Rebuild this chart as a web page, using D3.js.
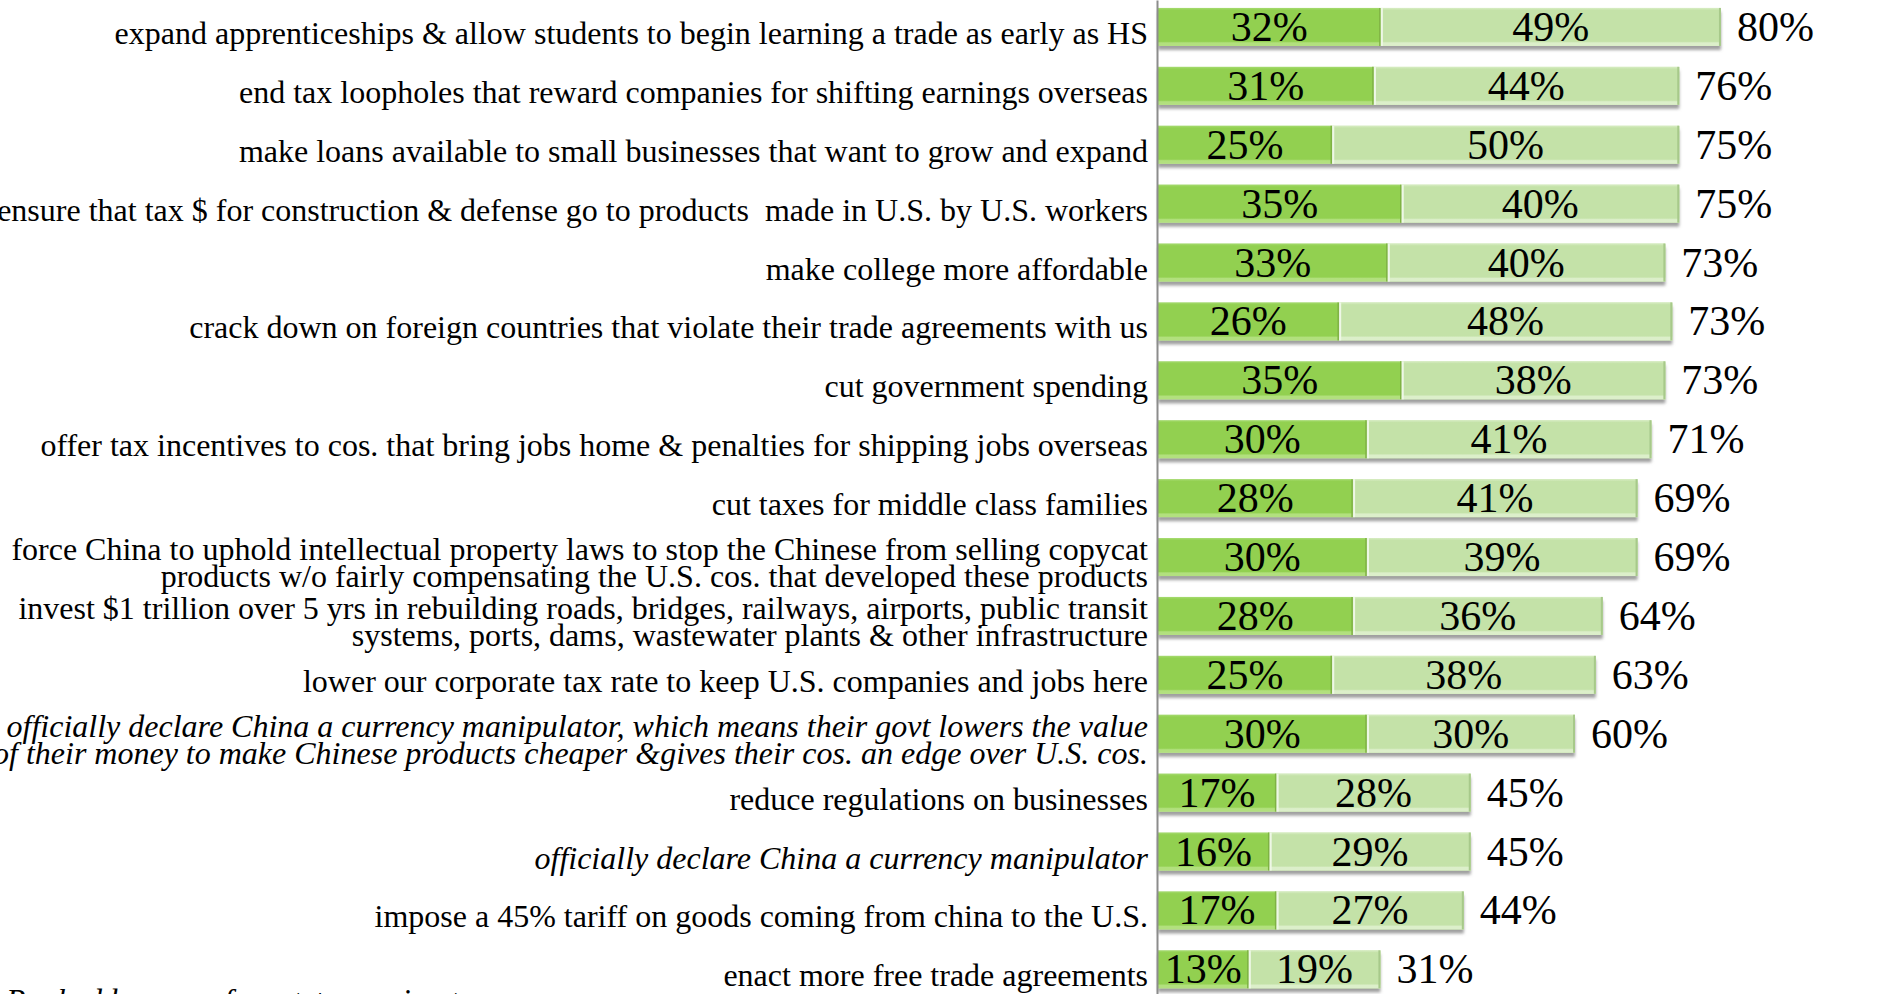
<!DOCTYPE html>
<meta charset="utf-8">
<style>
body { margin: 0; background: #fff; }
svg { display: block; }
.label { font-family: "Liberation Serif", "Times New Roman", serif; font-size: 32px; fill: #000; white-space: pre; }
.pct { font-family: "Liberation Serif", "Times New Roman", serif; font-size: 42px; fill: #000; }
</style>
<svg id="plot" width="1893" height="994"></svg>
<script src="https://cdn.jsdelivr.net/npm/d3@7"></script>
<script>

var categories = [
  "expand apprenticeships & allow students to begin learning a trade as early as HS",
  "end tax loopholes that reward companies for shifting earnings overseas",
  "make loans available to small businesses that want to grow and expand",
  "ensure that tax $ for construction & defense go to products  made in U.S. by U.S. workers",
  "make college more affordable",
  "crack down on foreign countries that violate their trade agreements with us",
  "cut government spending",
  "offer tax incentives to cos. that bring jobs home & penalties for shipping jobs overseas",
  "cut taxes for middle class families",
  "force China to uphold intellectual property laws to stop the Chinese from selling copycat\nproducts w/o fairly compensating the U.S. cos. that developed these products",
  "invest $1 trillion over 5 yrs in rebuilding roads, bridges, railways, airports, public transit\nsystems, ports, dams, wastewater plants & other infrastructure",
  "lower our corporate tax rate to keep U.S. companies and jobs here",
  "officially declare China a currency manipulator, which means their govt lowers the value\nof their money to make Chinese products cheaper &gives their cos. an edge over U.S. cos.",
  "reduce regulations on businesses",
  "officially declare China a currency manipulator",
  "impose a 45% tariff on goods coming from china to the U.S.",
  "enact more free trade agreements"
];
var italicRows = [12, 14];

var mostImpt = [32, 31, 25, 35, 33, 26, 35, 30, 28, 30, 28, 25, 30, 17, 16, 17, 13];
var veryImpt = [49, 44, 50, 40, 40, 48, 38, 41, 41, 39, 36, 38, 30, 28, 29, 27, 19];
var totals   = [80, 76, 75, 75, 73, 73, 73, 71, 69, 69, 64, 63, 60, 45, 45, 44, 31];

var footnote = "Ranked by sum of most + very impt";

var svg = d3.select("svg");
var x0 = 1158;

var x = d3.scaleLinear().domain([0, 100]).range([x0, x0 + 695]);
var y = d3.scaleBand().domain(d3.range(categories.length))
    .range([-2.5, -2.5 + 17 * 58.9])
    .paddingInner(0.355).paddingOuter(0.1775);

var defs = svg.append("defs");

function grad(id, top, mid, bottom) {
  var g = defs.append("linearGradient").attr("id", id)
      .attr("x1", 0).attr("y1", 0).attr("x2", 0).attr("y2", 1);
  g.append("stop").attr("offset", "0%").attr("stop-color", top);
  g.append("stop").attr("offset", "6%").attr("stop-color", mid);
  g.append("stop").attr("offset", "88%").attr("stop-color", mid);
  g.append("stop").attr("offset", "92%").attr("stop-color", bottom);
  g.append("stop").attr("offset", "100%").attr("stop-color", bottom);
}
grad("gDark", "#a6db70", "#92d050", "#b2e07e");
grad("gLight", "#d8edc4", "#c4e2a8", "#dcefca");

var sh = defs.append("filter").attr("id", "shadow")
    .attr("x", "-2%").attr("y", "-10%").attr("width", "104%").attr("height", "140%");
sh.append("feDropShadow").attr("dx", 0).attr("dy", 4).attr("stdDeviation", 1.6)
    .attr("flood-color", "#777").attr("flood-opacity", 0.7);

var rows = svg.append("g").selectAll("g")
  .data(categories).enter().append("g")
    .attr("transform", function(d, i) { return "translate(0," + y(i) + ")"; });

// shadow under the whole bar
rows.append("rect")
    .attr("x", x(0))
    .attr("y", 0)
    .attr("width", function(d, i) { return x(mostImpt[i] + veryImpt[i]) - x(0); })
    .attr("height", y.bandwidth())
    .attr("fill", "#c4e2a8")
    .attr("filter", "url(#shadow)");

rows.append("rect")
    .attr("x", x(0))
    .attr("width", function(d, i) { return x(mostImpt[i]) - x(0); })
    .attr("height", y.bandwidth())
    .attr("fill", "url(#gDark)");

rows.append("rect")
    .attr("x", function(d, i) { return x(mostImpt[i]); })
    .attr("width", function(d, i) { return x(mostImpt[i] + veryImpt[i]) - x(mostImpt[i]); })
    .attr("height", y.bandwidth())
    .attr("fill", "url(#gLight)");

// segment edges
rows.append("line")
    .attr("x1", function(d, i) { return x(mostImpt[i]) - 0.5; })
    .attr("x2", function(d, i) { return x(mostImpt[i]) - 0.5; })
    .attr("y1", 0).attr("y2", y.bandwidth())
    .attr("stroke", "#7fb244").attr("stroke-width", 1.5);
rows.append("line")
    .attr("x1", function(d, i) { return x(mostImpt[i]) + 1.5; })
    .attr("x2", function(d, i) { return x(mostImpt[i]) + 1.5; })
    .attr("y1", 0).attr("y2", y.bandwidth())
    .attr("stroke", "#eef7e6").attr("stroke-width", 2);
rows.append("line")
    .attr("x1", function(d, i) { return x(mostImpt[i] + veryImpt[i]) - 1; })
    .attr("x2", function(d, i) { return x(mostImpt[i] + veryImpt[i]) - 1; })
    .attr("y1", 0).attr("y2", y.bandwidth())
    .attr("stroke", "#a7c98a").attr("stroke-width", 2);

var mid = y.bandwidth() / 2;

rows.append("text").attr("class", "pct")
    .attr("x", function(d, i) { return (x(0) + x(mostImpt[i])) / 2; })
    .attr("y", mid + 14)
    .attr("text-anchor", "middle")
    .text(function(d, i) { return mostImpt[i] + "%"; });

rows.append("text").attr("class", "pct")
    .attr("x", function(d, i) { return (x(mostImpt[i]) + x(mostImpt[i] + veryImpt[i])) / 2; })
    .attr("y", mid + 14)
    .attr("text-anchor", "middle")
    .text(function(d, i) { return veryImpt[i] + "%"; });

rows.append("text").attr("class", "pct")
    .attr("x", function(d, i) { return x(mostImpt[i] + veryImpt[i]) + 16; })
    .attr("y", mid + 14)
    .text(function(d, i) { return totals[i] + "%"; });

// category labels
rows.append("text").attr("class", "label")
    .attr("text-anchor", "end")
    .style("font-style", function(d, i) { return italicRows.indexOf(i) >= 0 ? "italic" : "normal"; })
    .each(function(d) {
      var lines = d.split("\n");
      var t = d3.select(this);
      lines.forEach(function(l, k) {
        var yy = lines.length === 1 ? mid + 17 : mid + 3 + k * 27;
        t.append("tspan").attr("x", 1148).attr("y", yy).text(l);
      });
    });

// axis line
svg.append("g")
    .attr("transform", "translate(" + (x0 - 1) + ",0)")
    .call(d3.axisLeft(d3.scaleLinear().range([0, 994])).ticks(0).tickSize(0).tickFormat(""))
    .call(function(g) { g.select(".domain").attr("stroke", "#8c8c8c").attr("stroke-width", 2); });

svg.append("text").attr("class", "label")
    .attr("x", 6).attr("y", 1011)
    .style("font-style", "italic")
    .text(footnote);

</script>
